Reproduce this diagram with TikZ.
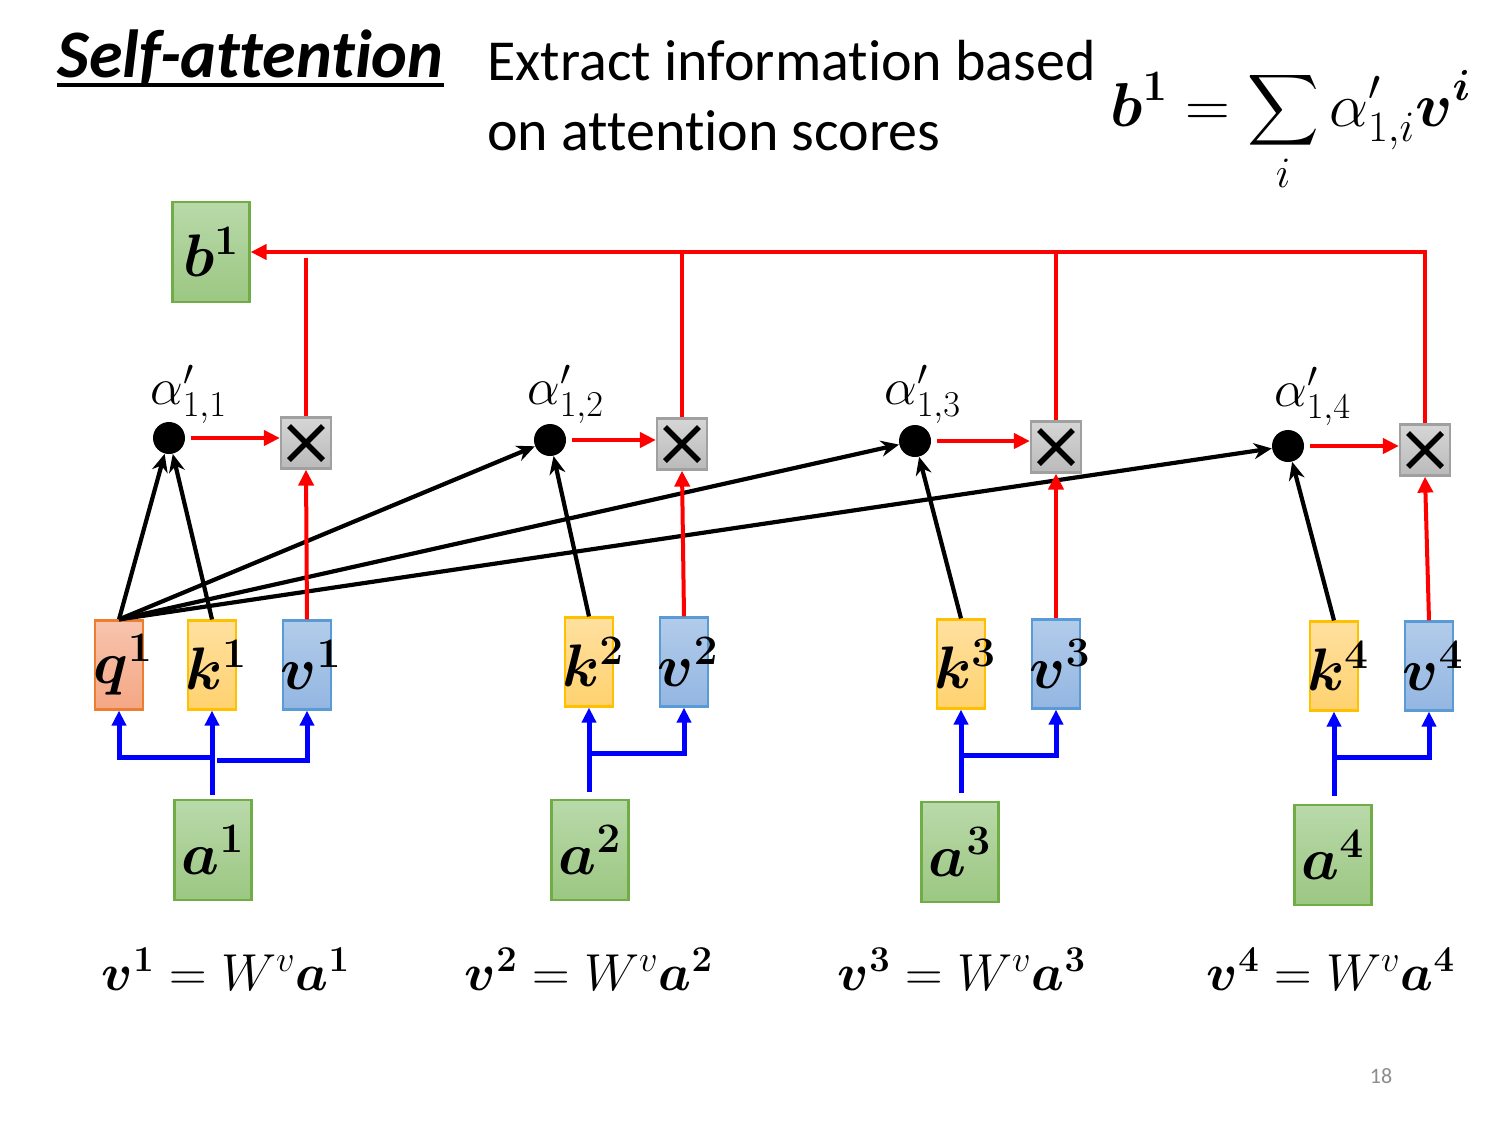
\RequirePackage{fix-cm}
\documentclass[tikz,border=0pt]{standalone}
\usepackage[no-math]{fontspec}
\setmainfont{Carlito}[Ligatures=NoCommon]
\usepackage{amsmath,bm}
\usetikzlibrary{arrows.meta,calc}
\definecolor{gtop}{HTML}{B9D9AA}
\definecolor{gbot}{HTML}{9CC782}
\definecolor{gborder}{HTML}{70AD47}
\definecolor{qtop}{HTML}{F8C4AE}
\definecolor{qbot}{HTML}{F4A784}
\definecolor{qborder}{HTML}{ED7D31}
\definecolor{ktop}{HTML}{FFE0A0}
\definecolor{kbot}{HTML}{FFD26F}
\definecolor{kborder}{HTML}{FFC000}
\definecolor{vtop}{HTML}{B2CCEA}
\definecolor{vbot}{HTML}{93B6E2}
\definecolor{vborder}{HTML}{5B9BD5}
\definecolor{mtop}{HTML}{D6D6D6}
\definecolor{mbot}{HTML}{BABABA}
\definecolor{mborder}{HTML}{A0A0A0}
\definecolor{pagegray}{HTML}{8C8C8C}
\begin{document}
\begin{tikzpicture}[x=0.5pt,y=-0.5pt,
  boxlabel/.style={font=\fontsize{30}{32}\selectfont},
  vecbox/.style={draw, line width=1.1pt, minimum width=24pt, minimum height=44.5pt, inner sep=0pt},
  qbox/.style={vecbox, draw=qborder, top color=qtop, bottom color=qbot},
  kbox/.style={vecbox, draw=kborder, top color=ktop, bottom color=kbot},
  vbox/.style={vecbox, draw=vborder, top color=vtop, bottom color=vbot},
  gbox/.style={draw=gborder, line width=1.1pt, minimum width=38.5pt, minimum height=50pt, inner sep=0pt, top color=gtop, bottom color=gbot},
  multbox/.style={draw=mborder, line width=1.1pt, minimum width=25pt, minimum height=25.5pt, inner sep=0pt, top color=mtop, bottom color=mbot,
    path picture={
      \draw[black, line width=2.7pt]
        ($(path picture bounding box.center)+(-8.5pt,-8.5pt)$) -- ($(path picture bounding box.center)+(8.5pt,8.5pt)$);
      \draw[black, line width=2.7pt]
        ($(path picture bounding box.center)+(-8.5pt,8.5pt)$) -- ($(path picture bounding box.center)+(8.5pt,-8.5pt)$);
    }},
  dotnode/.style={circle, fill=black, minimum size=16pt, inner sep=0pt},
  alphalabel/.style={anchor=base west, inner sep=0pt, font=\fontsize{26}{28}\selectfont},
  eqlabel/.style={anchor=base, inner sep=0pt, font=\fontsize{26}{28}\selectfont},
  redline/.style={draw=red, line width=2pt},
  redarr/.style={redline, -{Triangle[length=8pt,width=7.5pt]}},
  bluearr/.style={draw=blue, line width=2.5pt, -{Triangle[length=7.5pt,width=7pt]}},
  blackarr/.style={draw=black, line width=2.1pt, -{Stealth[length=9pt,width=8pt]}}
]
\useasboundingbox (0,0) rectangle (1510,1121);

% title and header text
\node[anchor=base west, inner sep=0pt, font=\fontsize{34}{40}\selectfont\bfseries\itshape] (title) at (57,77) {Self-attention};
\draw[line width=1.8pt] (title.base west) ++(0,8) coordinate (ul1) -- (ul1 -| title.base east);
\node[anchor=base west, inner sep=0pt, font=\fontsize{29}{35}\selectfont] (ext1) at (487,80) {Extract information based};
\node[anchor=base west, inner sep=0pt, font=\fontsize{29}{35}\selectfont] (ext2) at (487,150) {on attention scores};
\node[anchor=base west, inner sep=0pt, font=\fontsize{31}{33}\selectfont] (formula) at (1110,126)
  {$\displaystyle \bm{b^1} = \sum_i \alpha'_{1,i}\bm{v^i}$};

% output
\node[gbox, label={[boxlabel]center:$\bm{b^1}$}] (b1) at (211,252) {};

% multiply boxes
\node[multbox] (m1) at (306,443) {};
\node[multbox] (m2) at (682,444) {};
\node[multbox] (m3) at (1056,447) {};
\node[multbox] (m4) at (1425,450) {};

% attention score dots
\node[dotnode] (d1) at (169,438) {};
\node[dotnode] (d2) at (550,440) {};
\node[dotnode] (d3) at (915,441) {};
\node[dotnode] (d4) at (1288,446) {};
\node[alphalabel] (al1) at (150,404) {$\alpha'_{1,1}$};
\node[alphalabel] (al2) at (527,404) {$\alpha'_{1,2}$};
\node[alphalabel] (al3) at (884,404) {$\alpha'_{1,3}$};
\node[alphalabel] (al4) at (1274,406) {$\alpha'_{1,4}$};

% q k v boxes
\node[qbox, label={[boxlabel, xshift=2pt]center:$\bm{q^1}$}] (q1) at (119,665) {};
\node[kbox, label={[boxlabel, xshift=2pt]center:$\bm{k^1}$}] (k1) at (212,665) {};
\node[vbox, label={[boxlabel, xshift=2pt]center:$\bm{v^1}$}] (v1) at (307,665) {};
\node[kbox, label={[boxlabel, xshift=2pt]center:$\bm{k^2}$}] (k2) at (589,662) {};
\node[vbox, label={[boxlabel, xshift=2pt]center:$\bm{v^2}$}] (v2) at (684,662) {};
\node[kbox, label={[boxlabel, xshift=2pt]center:$\bm{k^3}$}] (k3) at (961,664) {};
\node[vbox, label={[boxlabel, xshift=2pt]center:$\bm{v^3}$}] (v3) at (1056,664) {};
\node[kbox, label={[boxlabel, xshift=2pt]center:$\bm{k^4}$}] (k4) at (1334,666) {};
\node[vbox, label={[boxlabel, xshift=2pt]center:$\bm{v^4}$}] (v4) at (1429,666) {};

% inputs
\node[gbox, label={[boxlabel]center:$\bm{a^1}$}] (a1) at (213,850) {};
\node[gbox, label={[boxlabel]center:$\bm{a^2}$}] (a2) at (590,850) {};
\node[gbox, label={[boxlabel]center:$\bm{a^3}$}] (a3) at (960,852) {};
\node[gbox, label={[boxlabel]center:$\bm{a^4}$}] (a4) at (1333,855) {};

% equations
\node[eqlabel] (e1) at (226,990) {$\bm{v^1} = W^v\bm{a^1}$};
\node[eqlabel] (e2) at (589,990) {$\bm{v^2} = W^v\bm{a^2}$};
\node[eqlabel] (e3) at (962,990) {$\bm{v^3} = W^v\bm{a^3}$};
\node[eqlabel] (e4) at (1331,990) {$\bm{v^4} = W^v\bm{a^4}$};

\node[font=\fontsize{11}{13}\selectfont, text=pagegray] (page) at (1381,1076) {18};

% blue arrows
\coordinate (j1) at (213,757);
\coordinate (j1r) at (217,760);
\coordinate (j2) at (589,753);
\coordinate (j3) at (961,755);
\coordinate (j4) at (1334,757);
\draw[bluearr, shorten <=2pt] (k1.south |- a1.north) -- (k1.south);
\draw[bluearr] (j1) -| (q1.south);
\draw[bluearr] (j1r) -| (v1.south);
\draw[bluearr, shorten <=3.5pt] (k2.south |- a2.north) -- (k2.south);
\draw[bluearr] (j2) -| (v2.south);
\draw[bluearr, shorten <=4pt] (k3.south |- a3.north) -- (k3.south);
\draw[bluearr] (j3) -| (v3.south);
\draw[bluearr, shorten <=4pt] (k4.south |- a4.north) -- (k4.south);
\draw[bluearr] (j4) -| (v4.south);

% black arrows to dots
\draw[blackarr] (q1.north) -- (d1);
\draw[blackarr] (k1.north) -- (d1);
\draw[blackarr] (q1.north) -- (d2);
\draw[blackarr] (q1.north) -- (d3);
\draw[blackarr] (q1.north) -- (d4);
\draw[blackarr] (k2.north) -- (d2);
\draw[blackarr] (k3.north) -- (d3);
\draw[blackarr] (k4.north) -- (d4);

% red arrows
\draw[redarr, shorten <=3pt] (d1.east) -- (d1.east -| m1.west);
\draw[redarr, shorten <=3pt] (d2.east) -- (d2.east -| m2.west);
\draw[redarr, shorten <=3pt] (d3.east) -- (d3.east -| m3.west);
\draw[redarr, shorten <=3pt] (d4.east) -- (d4.east -| m4.west);
\draw[redarr] (v1.north) -- (m1.south);
\draw[redarr] (v2.north) -- (m2.south);
\draw[redarr] (v3.north) -- (m3.south);
\draw[redarr] (v4.north) -- (m4.south);
\coordinate (t1) at (306,258);
\draw[redline] (m1.north) -- (m1.north |- t1);
\draw[redline] (m2.north) -- (m2.north |- b1.east);
\draw[redline] (m3.north) -- (m3.north |- b1.east);
\draw[redarr] (m4.north) |- (b1.east);
\end{tikzpicture}
\end{document}
